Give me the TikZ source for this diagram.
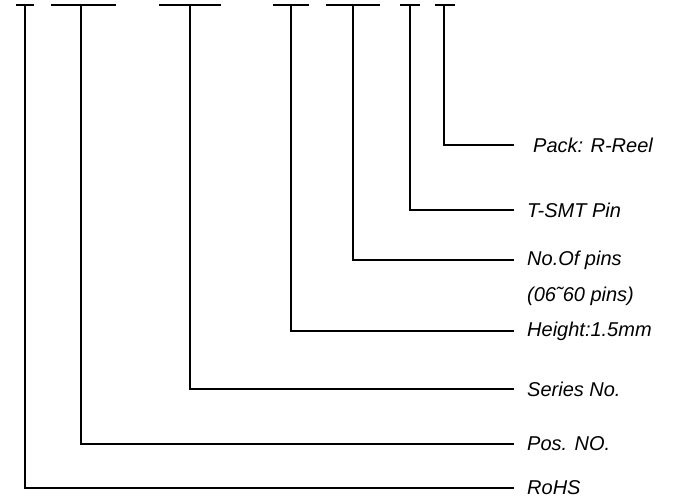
\documentclass[tikz,border=0pt]{standalone}
\usepackage{fontspec}
\setmainfont{Liberation Sans}
\usetikzlibrary{positioning}

\begin{document}
\begin{tikzpicture}[
  x=1pt, y=-1pt,
  lead/.style={line width=1.3pt, color=black},
  field/.style={anchor=west, inner sep=0pt, font=\fontsize{20}{24}\selectfont\itshape}
]
\useasboundingbox (0,0) rectangle (675,501);

% Top bars of the part number
\draw[lead] (16,5) -- (34,5);
\draw[lead] (51,5) -- (116,5);
\draw[lead] (159,5) -- (221,5);
\draw[lead] (273,5) -- (309,5);
\draw[lead] (326,5) -- (380,5);
\draw[lead] (400,5) -- (420,5);
\draw[lead] (435,5) -- (455,5);

\coordinate (rohs top) at (25,5);
\coordinate (pos top) at (81,5);
\coordinate (series top) at (190,5);
\coordinate (height top) at (291,5);
\coordinate (pins top) at (353,5);
\coordinate (smt top) at (410,5);
\coordinate (pack top) at (444,5);

% Line ends on the right
\coordinate (pack end) at (514,145);
\coordinate (smt end) at (514,210);
\coordinate (pins end) at (514,260);
\coordinate (height end) at (514,331);
\coordinate (series end) at (514,389);
\coordinate (pos end) at (514,444);
\coordinate (rohs end) at (514,488);

% Field labels
\node[field, right=19pt of pack end] (pack) {Pack: R-Reel};
\node[field, right=13pt of smt end] (smt) {T-SMT Pin};
\node[field, right=13pt of pins end] (pins) {No.Of pins};
\node[field] (range) at ([yshift=-36pt]pins.west) {(06\char"02DC 60 pins)};
\node[field, right=13pt of height end] (height) {Height:1.5mm};
\node[field, right=13pt of series end] (series) {Series No.};
\node[field, right=13pt of pos end] (pos) {Pos. NO.};
\node[field, right=13pt of rohs end] (rohs) {RoHS};

% Leaders
\draw[lead] (pack top) |- (pack end);
\draw[lead] (smt top) |- (smt end);
\draw[lead] (pins top) |- (pins end);
\draw[lead] (height top) |- (height end);
\draw[lead] (series top) |- (series end);
\draw[lead] (pos top) |- (pos end);
\draw[lead] (rohs top) |- (rohs end);

\end{tikzpicture}
\end{document}
